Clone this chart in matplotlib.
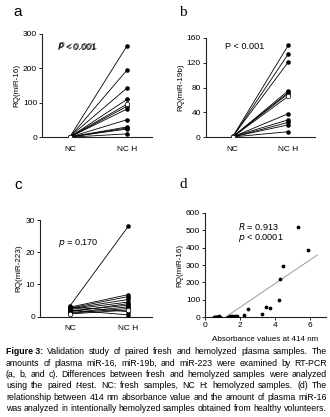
import matplotlib
matplotlib.use("Agg")
import matplotlib.pyplot as plt
import numpy as np

plt.rcParams['font.family'] = ['Liberation Sans', 'DejaVu Sans']

# ---------------- data ----------------
groups = ["NC", "NC H"]

a_nc = [1.5, 1.0, 2.0, 0.8, 1.2, 0.5, 1.0, 0.7, 1.3, 0.6, 0.9, 0.4]
a_nch = [265, 195, 143, 110, 96, 90, 82, 51, 30, 27, 24, 10]
a_open = 4

b_nc = [1.0, 0.8, 1.2, 0.6, 0.9, 1.1, 0.5, 0.7, 1.3, 0.4, 0.8, 0.6]
b_nch = [148, 134, 121, 75, 72, 70, 66, 38, 28, 24, 20, 9]
b_open = 6

c_nc = [3.4, 3.0, 2.9, 2.6, 2.4, 2.2, 2.0, 1.8, 1.5, 1.2, 1.0, 0.8]
c_nch = [28.0, 1.5, 6.8, 6.2, 5.3, 4.5, 0.5, 3.5, 4.0, 3.0, 2.5, 2.0]
c_open = 11

d_abs = [0.5, 0.55, 0.6, 0.65, 0.7, 0.75, 0.8, 0.85,
         1.3, 1.4, 1.45, 1.55, 1.6, 1.7, 1.8,
         2.2, 2.45, 3.27, 3.48, 3.72, 4.21, 4.25, 4.42, 5.3, 5.87]
d_rq = [2, 3, 1, 4, 2, 3, 5, 2,
        3, 5, 2, 8, 4, 6, 10,
        12, 50, 19, 61, 52, 99, 218, 296, 520, 386]
d_fit_x = [1.15, 6.4]
d_fit_slope = 68.0
d_fit_icpt = -78.2

a_ticks = [0, 100, 200, 300]
b_ticks = [0, 40, 80, 120, 160]
c_ticks = [0, 10, 20, 30]
d_yticks = [0, 100, 200, 300, 400, 500, 600]
d_xticks = [0, 2, 4, 6]

caption_lines = [
    [("Figure 3:", "bold"), ("Validation", ""), ("study", ""), ("of", ""), ("paired", ""), ("fresh", ""),
     ("and", ""), ("hemolyzed", ""), ("plasma", ""), ("samples.", ""), ("The", "")],
    "amounts of plasma miR-16, miR-19b, and miR-223 were examined by RT-PCR",
    "(a, b, and c). Differences between fresh and hemolyzed samples were analyzed",
    [("using", ""), ("the", ""), ("paired", ""), ("t|-test.", "italic1"), ("NC:", ""), ("fresh", ""),
     ("samples,", ""), ("NC", ""), ("H:", ""), ("hemolyzed", ""), ("samples.", ""), ("(d)", ""), ("The", "")],
    "relationship between 414 nm absorbance value and the amount of plasma miR-16",
    "was analyzed in intentionally hemolyzed samples obtained from healthy volunteers.",
]

# ---------------- figure ----------------
W, H = 330, 417
fig = plt.figure(figsize=(W / 100, H / 100), dpi=100)

TICK_FS = 6.0
LAB_FS = 5.8
STAT_FS = 6.6
PANEL_FS = 11


def px_axes(l, t, r, b):
    return fig.add_axes([l / W, 1 - b / H, (r - l) / W, (b - t) / H])


def style(ax):
    for s in ("top", "right"):
        ax.spines[s].set_visible(False)
    for s in ("left", "bottom"):
        ax.spines[s].set_linewidth(0.8)
        ax.spines[s].set_color("#222222")
    ax.tick_params(labelsize=TICK_FS, length=2, width=0.6, pad=1.5, colors="black")


def paired(ax, nc, nch, open_idx, ticks, ylabel, xl, ptxt, ptx, pty):
    for i, (v0, v1) in enumerate(zip(nc, nch)):
        ax.plot([0, 1], [v0, v1], color="black", lw=0.6, zorder=2)
    for i, (v0, v1) in enumerate(zip(nc, nch)):
        if i == open_idx:
            continue
        ax.plot([0, 1], [v0, v1], ls="none", marker="o", ms=2.8, mfc="black", mec="black", mew=0.4, zorder=3)
    ax.plot([0, 1], [nc[open_idx], nch[open_idx]], ls="none", marker="o", ms=3.3,
            mfc="white", mec="black", mew=0.5, zorder=4)
    ax.set_xlim(*xl)
    ax.set_ylim(ticks[0], ticks[-1])
    ax.set_yticks(ticks)
    ax.set_xticks([0, 1])
    ax.set_xticklabels(groups)
    ax.set_ylabel(ylabel, fontsize=LAB_FS, labelpad=2)
    style(ax)
    ax.tick_params(axis="x", length=0, pad=6)
    if ptxt:
        ax.text(ptx, pty, ptxt, transform=ax.transAxes, fontsize=STAT_FS, ha="left", va="center")


ax_a = px_axes(42, 34, 152, 137.3)
paired(ax_a, a_nc, a_nch, a_open, a_ticks, "RQ(miR-16)", (-0.49, 1.44),
       r"$\it{P}$ < 0.001", 0.14, 0.88)
ax_a.text(0.15, 0.885, r"$\it{P}$ < 0.001", transform=ax_a.transAxes, fontsize=STAT_FS,
          ha="left", va="center", alpha=0.7)

ax_b = px_axes(205.7, 37.7, 315, 137.3)
paired(ax_b, b_nc, b_nch, b_open, b_ticks, "RQ(miR-19b)", (-0.486, 1.48),
       "P < 0.001", 0.18, 0.91)

ax_c = px_axes(40, 220, 152, 316.5)
paired(ax_c, c_nc, c_nch, c_open, c_ticks, "RQ(miR-223)", (-0.52, 1.41),
       r"$\it{p}$ = 0.170", 0.16, 0.76)

ax_d = px_axes(205, 212.7, 326, 317.3)
ax_d.plot(d_abs, d_rq, ls="none", marker="o", ms=1.7, color="black", zorder=3)
fx = np.array(d_fit_x)
ax_d.plot(fx, d_fit_slope * fx + d_fit_icpt, color="#9a9a9a", lw=0.7, zorder=2)
ax_d.set_xlim(0, 6.9)
ax_d.set_ylim(0, 600)
ax_d.set_xticks(d_xticks)
ax_d.set_yticks(d_yticks)
ax_d.set_ylabel("RQ(miR-16)", fontsize=LAB_FS, labelpad=2)
ax_d.set_xlabel("Absorbance values at 414 nm", fontsize=LAB_FS, labelpad=5)
style(ax_d)
ax_d.text(0.27, 0.87, r"$\it{R}$ = 0.913", transform=ax_d.transAxes, fontsize=STAT_FS, ha="left", va="center")
ax_d.text(0.27, 0.76, r"$\it{p}$ < 0.0001", transform=ax_d.transAxes, fontsize=STAT_FS, ha="left", va="center")

# panel letters
fig.text(18 / W, 1 - 12 / H, "a", fontsize=PANEL_FS, ha="center", va="center")
fig.text(183 / W, 1 - 12 / H, "b", fontsize=PANEL_FS, ha="center", va="center", family="Liberation Serif")
fig.text(18 / W, 1 - 185 / H, "c", fontsize=PANEL_FS, ha="center", va="center")
fig.text(183 / W, 1 - 185 / H, "d", fontsize=PANEL_FS, ha="center", va="center", family="Liberation Serif")

# ---------------- caption (justified) ----------------
CAP_FS = 6.3
left_px, right_px = 6, 327
line_y = [352, 363.3, 374.6, 385.9, 397.2, 408.5]
renderer = fig.canvas.get_renderer()


def make_words(line):
    if isinstance(line, str):
        return [(w, "") for w in line.split(" ")]
    return line


for li, line in enumerate(caption_lines):
    words = make_words(line)
    arts = []
    widths = []
    for w, st in words:
        if st == "italic1":
            it, rest = w.split("|")
            t1 = fig.text(0, 0, it, fontsize=CAP_FS, style="italic", va="center")
            t2 = fig.text(0, 0, rest, fontsize=CAP_FS, va="center")
            w1 = t1.get_window_extent(renderer).width
            w2 = t2.get_window_extent(renderer).width
            arts.append([(t1, 0), (t2, w1)])
            widths.append(w1 + w2)
        else:
            t = fig.text(0, 0, w, fontsize=CAP_FS, va="center",
                         weight="bold" if st == "bold" else "normal")
            arts.append([(t, 0)])
            widths.append(t.get_window_extent(renderer).width)
    total = sum(widths)
    gap = (right_px - left_px - total) / (len(words) - 1)
    x = left_px
    y = 1 - line_y[li] / H
    for parts, wdt in zip(arts, widths):
        for t, off in parts:
            t.set_position(((x + off) / W, y))
        x += wdt + gap

fig.savefig("out.png", dpi=100)
